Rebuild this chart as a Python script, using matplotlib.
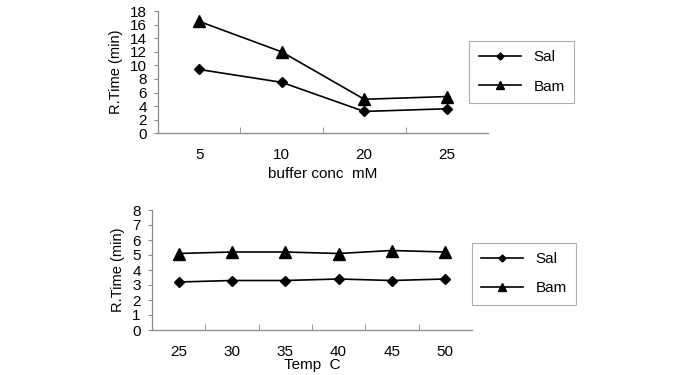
import numpy as np
import matplotlib.pyplot as plt

plt.rcParams['font.family'] = ['Liberation Sans', 'DejaVu Sans']

conc = ['5', '10', '20', '25']
sal_conc = [9.4, 7.5, 3.2, 3.6]
bam_conc = [16.5, 12.0, 5.0, 5.4]

temp = ['25', '30', '35', '40', '45', '50']
sal_temp = [3.2, 3.3, 3.3, 3.4, 3.3, 3.4]
bam_temp = [5.1, 5.2, 5.2, 5.1, 5.3, 5.2]

fig = plt.figure(figsize=(6.75, 3.75), dpi=100)
ax1 = fig.add_axes([0.234, 0.645, 0.489, 0.325])
ax2 = fig.add_axes([0.225, 0.12, 0.474, 0.32])


def draw(ax, cats, sal, bam, ymax, step, xlabel, xpad, leg_box):
    x = np.arange(len(cats))
    ax.plot(x, sal, color='black', lw=1.2, marker='D', ms=5.5, label='Sal')
    ax.plot(x, bam, color='black', lw=1.2, marker='^', ms=8, label='Bam')
    ax.set_xlim(-0.5, len(cats) - 0.5)
    ax.set_ylim(0, ymax)
    ax.set_yticks(np.arange(0, ymax + 1, step))
    ax.set_xticks(x)
    ax.set_xticklabels(cats)
    ax.set_xticks(np.arange(-0.5, len(cats) - 0.5, 1.0), minor=True)
    ax.tick_params(axis='x', which='major', length=0, pad=11, labelsize=11)
    ax.tick_params(axis='x', which='minor', length=4, direction='in', color='#888888')
    ax.tick_params(axis='y', length=3, color='#888888', labelsize=11, pad=5)
    for s in ['top', 'right']:
        ax.spines[s].set_visible(False)
    for s in ['left', 'bottom']:
        ax.spines[s].set_color('#888888')
        ax.spines[s].set_linewidth(0.9)
    ax.set_xlabel(xlabel, fontsize=11, labelpad=xpad)
    ax.set_ylabel('R.Time (min)', fontsize=10.5, labelpad=5)
    leg = ax.legend(loc='center', bbox_to_anchor=leg_box, bbox_transform=fig.transFigure,
                    frameon=True, fancybox=False, edgecolor='#999999', fontsize=11,
                    handlelength=2.8, labelspacing=1.0, borderpad=0.6, markerscale=0.65)
    leg.get_frame().set_linewidth(0.8)


draw(ax1, conc, sal_conc, bam_conc, 18, 2, 'buffer conc  mM', 3, (0.773, 0.808))
draw(ax2, temp, sal_temp, bam_temp, 8, 1, 'Temp  C', -1, (0.776, 0.27))

fig.savefig('out.png', dpi=100)
